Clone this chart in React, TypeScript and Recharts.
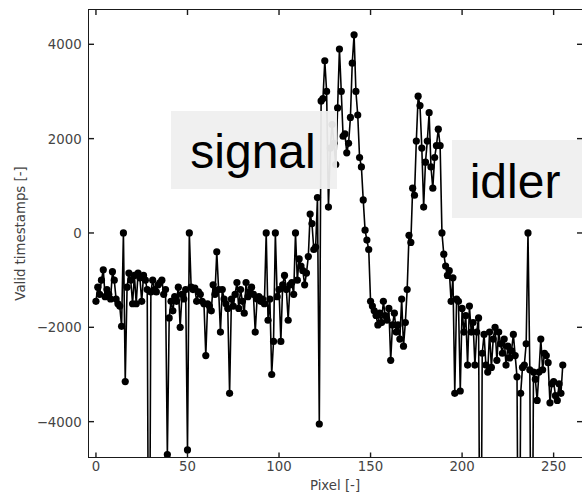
import React from 'react';
import { LineChart, Line, XAxis, YAxis } from 'recharts';

// Valid timestamps per pixel (pixels 0..255)
const pixels0to16 = [-1450, -1150, -1300, -1000, -780, -1350, -1200, -1300, -1400, -820, -1000, -1400, -1500, -1550, -1980, 0, -3150];
const pixels17to51 = [-1150, -850, -1000, -1500, -900, -1500, -850, -950, -1450, -900, -1000, -1200, -10000, -1250, -1000, -1200, -1250, -1100, -1050, -1000, -1300, -1200, -4700, -1800, -1450, -1650, -1350, -1450, -1150, -2000, -1300, -1400, -1200, -4600, 0];
const pixels52to102 = [-1150, -1200, -1170, -1450, -1250, -1300, -1450, -1500, -2600, -1500, -1550, -1650, -1100, -1300, -400, -1200, -2100, -1200, -1400, -1500, -1600, -3400, -1400, -1550, -1300, -1050, -1600, -1200, -1450, -1700, -1050, -1350, -1250, -1150, -1300, -2100, -1400, -1350, -1450, -1400, -1500, 0, -1850, -1400, -3000, -2300, 0, -1350, -1200, -2300, -1100];
const pixels103to150 = [-900, -1200, -1850, -1100, -1050, -1300, 0, -1000, -550, -700, -800, -1100, -850, -500, 400, 200, -350, -300, 750, -4050, 2800, 2850, 3650, 3000, 550, 1800, 2300, 1900, 1450, 2650, 3900, 3000, 2050, 2100, 1700, 1900, 2450, 3600, 4200, 3000, 2500, 1600, 1400, 700, 60, -150, -350, -1450];
const pixels151to200 = [-1550, -1650, -1750, -1950, -1700, -1900, -1450, -1750, -1850, -1600, -2700, -1950, -1700, -2100, -1950, -2250, -1400, -2400, -1900, -1200, -50, -200, 950, 800, 1950, 2900, 2700, 1800, 550, 1500, 1950, 2550, 1400, 950, 1600, 1850, 2200, 1850, 0, -450, -700, -900, -800, -1450, -950, -3400, -1400, -1450, -3350, -1600];
const pixels201to255 = [-2100, -1750, -2800, -1550, -2100, -1900, -2800, -2100, -1800, -10000, -2550, -2150, -2800, -2950, -2100, -2850, -2250, -2000, -2700, -2100, -2350, -2550, -2250, -2800, -2400, -2650, -2500, -2150, -2600, -3050, -10000, -3400, -2850, -2800, -2350, 0, -2900, -10000, -2950, -3100, -3550, -2950, -2250, -2900, -2550, -2600, -2750, -3600, -3200, -3150, -3450, -3550, -3200, -3400, -2800];

const validTimestamps = [
  ...pixels0to16,
  ...pixels17to51,
  ...pixels52to102,
  ...pixels103to150,
  ...pixels151to200,
  ...pixels201to255,
];

const xTicks = [0, 50, 100, 150, 200, 250];
const yTicks = [-4000, -2000, 0, 2000, 4000];
const xDomain: [number, number] = [-3.8, 265.5];
const yDomain: [number, number] = [-4760, 4727];
const annotations = [
  { label: 'signal', left: 171, top: 110.5, width: 166, height: 78, textLeft: 19.3 },
  { label: 'idler', left: 451.7, top: 140, width: 140, height: 78, textLeft: 18 },
];

const data = validTimestamps.map((v, i) => ({ pixel: i, value: v }));

const PLOT_LEFT = 89;
const PLOT_TOP = 10;
const PLOT_BOTTOM = 457.5;
const PLOT_RIGHT = 582;
const TICK_LEN = 5;
const SPINE = '#1a1a1a';
const LABEL = '#444';
const FONT = '"DejaVu Sans", sans-serif';

const fmt = (v: number) => (v < 0 ? '\u2212' + Math.abs(v) : String(v));

const XTick = (props: any) => {
  const x = props.payload?.coordinate ?? props.x;
  return (
    <g>
      <line x1={x} x2={x} y1={PLOT_BOTTOM} y2={PLOT_BOTTOM - TICK_LEN} stroke={SPINE} strokeWidth={1.4} />
      <line x1={x} x2={x} y1={PLOT_TOP} y2={PLOT_TOP + TICK_LEN} stroke={SPINE} strokeWidth={1.4} />
      <text x={x} y={470.7} textAnchor="middle" fill={LABEL} fontSize={13.3} fontFamily={FONT}>
        {fmt(props.payload.value)}
      </text>
    </g>
  );
};

const YTick = (props: any) => {
  const y = props.payload?.coordinate ?? props.y;
  return (
    <g>
      <line x1={PLOT_LEFT} x2={PLOT_LEFT + TICK_LEN} y1={y} y2={y} stroke={SPINE} strokeWidth={1.4} />
      <line x1={PLOT_RIGHT} x2={PLOT_RIGHT - TICK_LEN} y1={y} y2={y} stroke={SPINE} strokeWidth={1.4} />
      <text x={81.7} y={y + 4.9} textAnchor="end" fill={LABEL} fontSize={13.3} fontFamily={FONT}>
        {fmt(props.payload.value)}
      </text>
    </g>
  );
};

const renderDot = (props: any) => {
  const { cx, cy, index, payload } = props;
  const v = payload?.value;
  if (v === undefined || v < yDomain[0] || v > yDomain[1]) return <g key={`d${index}`} />;
  return <circle key={`d${index}`} cx={cx} cy={cy} r={3.6} fill="#000" />;
};

export default function App() {
  return (
    <div style={{ position: 'fixed', left: 0, top: 0, width: 582, height: 496, background: '#fff', overflow: 'hidden' }}>
      <LineChart
        width={582}
        height={496}
        data={data}
        margin={{ top: PLOT_TOP, right: 0, bottom: 0, left: 0 }}
      >
        <XAxis
          type="number"
          dataKey="pixel"
          domain={xDomain}
          allowDataOverflow
          ticks={xTicks}
          interval={0}
          height={496 - PLOT_BOTTOM}
          tickLine={false}
          axisLine={false}
          tick={<XTick />}
          label={{
            content: () => (
              <text x={335} y={490} textAnchor="middle" fill={LABEL} fontSize={13.3} fontFamily={FONT}>
                Pixel [-]
              </text>
            ),
          }}
        />
        <YAxis
          type="number"
          domain={yDomain}
          allowDataOverflow
          ticks={yTicks}
          interval={0}
          width={PLOT_LEFT}
          tickLine={false}
          axisLine={false}
          tick={<YTick />}
          label={{
            content: () => (
              <text
                x={25}
                y={233.5}
                transform="rotate(-90, 25, 233.5)"
                textAnchor="middle"
                fill={LABEL}
                fontSize={13.3}
                fontFamily={FONT}
              >
                Valid timestamps [-]
              </text>
            ),
          }}
        />
        <Line
          type="linear"
          dataKey="value"
          stroke="#000"
          strokeWidth={1.6}
          dot={renderDot}
          activeDot={false}
          isAnimationActive={false}
        />
      </LineChart>
      <div
        style={{
          position: 'absolute',
          left: PLOT_LEFT - 0.8,
          top: PLOT_TOP - 0.8,
          width: PLOT_RIGHT - PLOT_LEFT + 1.6,
          height: PLOT_BOTTOM - PLOT_TOP + 1.6,
          border: `1.6px solid ${SPINE}`,
          boxSizing: 'border-box',
          pointerEvents: 'none',
        }}
      />
      {annotations.map((a) => (
        <div
          key={a.label}
          style={{
            position: 'absolute',
            left: a.left,
            top: a.top,
            width: a.width,
            height: a.height,
            background: 'rgba(239,239,239,0.94)',
          }}
        >
          <span
            style={{
              position: 'absolute',
              left: a.textLeft,
              top: 17.5,
              fontFamily: '"Liberation Sans", Arial, sans-serif',
              fontSize: 48,
              lineHeight: '48px',
              color: '#000',
              whiteSpace: 'nowrap',
            }}
          >
            {a.label}
          </span>
        </div>
      ))}
    </div>
  );
}
